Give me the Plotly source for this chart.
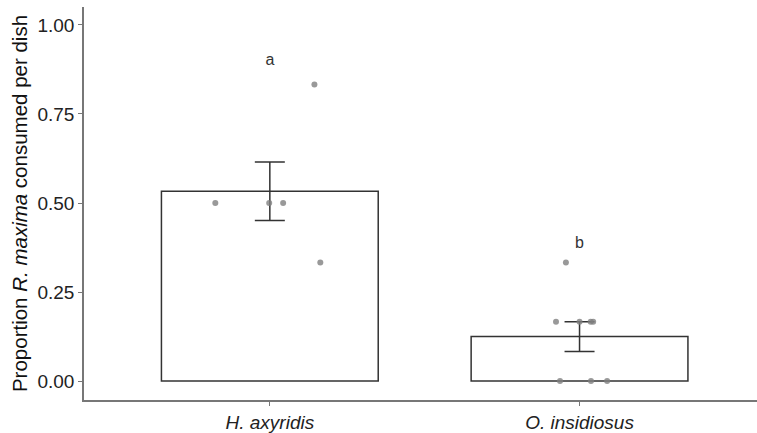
import plotly.graph_objects as go

categories = ["H. axyridis", "O. insidiosus"]
means = [0.533, 0.125]
se = [0.082, 0.042]
letters = ["a", "b"]
letter_y = [0.90, 0.385]

# individual dish values and horizontal jitter (category units)
pts_h_y = [0.5, 0.5, 0.5, 0.833, 0.333]
pts_h_jit = [-0.176, -0.002, 0.043, 0.144, 0.163]
pts_o_y = [0.333, 0.1667, 0.1667, 0.1667, 0.1667, 0.0, 0.0, 0.0]
pts_o_jit = [-0.044, -0.076, 0.0, 0.036, 0.044, -0.063, 0.037, 0.089]

xpos = list(range(len(categories)))

fig = go.Figure()
fig.add_trace(go.Bar(
    x=xpos, y=means, width=0.7,
    marker=dict(color="white", line=dict(color="#333333", width=1.5)),
    error_y=dict(type="data", array=se, visible=True, color="#333333", thickness=1.5, width=15),
    hoverinfo="skip",
))
fig.add_trace(go.Scatter(
    x=[xpos[0] + j for j in pts_h_jit], y=pts_h_y, mode="markers",
    marker=dict(color="#808080", size=6, opacity=0.8),
))
fig.add_trace(go.Scatter(
    x=[xpos[1] + j for j in pts_o_jit], y=pts_o_y, mode="markers",
    marker=dict(color="#808080", size=6, opacity=0.8),
))
fig.add_trace(go.Scatter(
    x=xpos, y=letter_y, mode="text", text=letters,
    textfont=dict(family="Liberation Sans, Arial, sans-serif", size=16, color="#333333"),
))

fig.update_layout(
    width=757, height=433,
    margin=dict(l=84, r=0, t=7, b=31),
    plot_bgcolor="white", paper_bgcolor="white",
    showlegend=False,
    font=dict(family="Liberation Sans, Arial, sans-serif", size=19, color="#222222"),
)
fig.update_xaxes(
    range=[-0.6, 1.573], tickvals=xpos,
    ticktext=["<i>%s</i>" % c for c in categories],
    showline=True, linecolor="#777777", linewidth=1.5,
    ticks="outside", ticklen=4, tickcolor="#777777",
    showgrid=False, zeroline=False,
    tickfont=dict(size=19, color="#222222"),
)
fig.update_yaxes(
    range=[-0.053, 1.0503], tickvals=[0, 0.25, 0.5, 0.75, 1.0],
    ticktext=["0.00", "0.25", "0.50", "0.75", "1.00"],
    showline=True, linecolor="#777777", linewidth=1.5,
    ticks="outside", ticklen=4, tickcolor="#777777",
    showgrid=False, zeroline=False,
    tickfont=dict(size=19, color="#222222"),
    title=dict(text="Proportion <i>R. maxima</i> consumed per dish",
               font=dict(size=20.5, color="#111111"), standoff=4),
)
fig.write_html("out.html")
